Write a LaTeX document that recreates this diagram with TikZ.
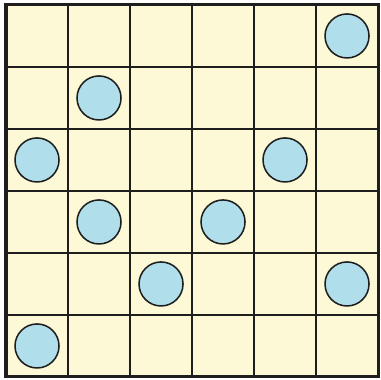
\documentclass[tikz,border=0pt]{standalone}
\usepackage{xcolor}
\usepackage{tikz}
\definecolor{boardcream}{RGB}{253, 249, 214}
\definecolor{stoneblue}{RGB}{176, 222, 234}
\definecolor{gridline}{RGB}{30, 30, 30}

\begin{document}
\begin{tikzpicture}[
    board/.style={draw=gridline, line width=1.4pt, fill=boardcream},
    cellline/.style={draw=gridline, line width=0.7pt},
    stone/.style={circle, draw=gridline, line width=0.7pt, fill=stoneblue,
                  minimum size=0.71cm, inner sep=0pt}
]
    \useasboundingbox (-0.097,-0.035) rectangle (6.048,6.08);
    \fill[boardcream] (0,0) rectangle (6,6);
    \foreach \i in {1,...,5} {
        \draw[cellline] (\i,0) -- (\i,6);
        \draw[cellline] (0,\i) -- (6,\i);
    }
    \draw[board, fill=none] (0,0) rectangle (6,6);
    % stones: column/row counted from the lower left
    \foreach \c/\r in {5/5, 1/4, 0/3, 4/3, 1/2, 3/2, 2/1, 5/1, 0/0} {
        \node[stone] (stone-\c-\r) at (\c+0.5,\r+0.5) {};
    }
\end{tikzpicture}
\end{document}
